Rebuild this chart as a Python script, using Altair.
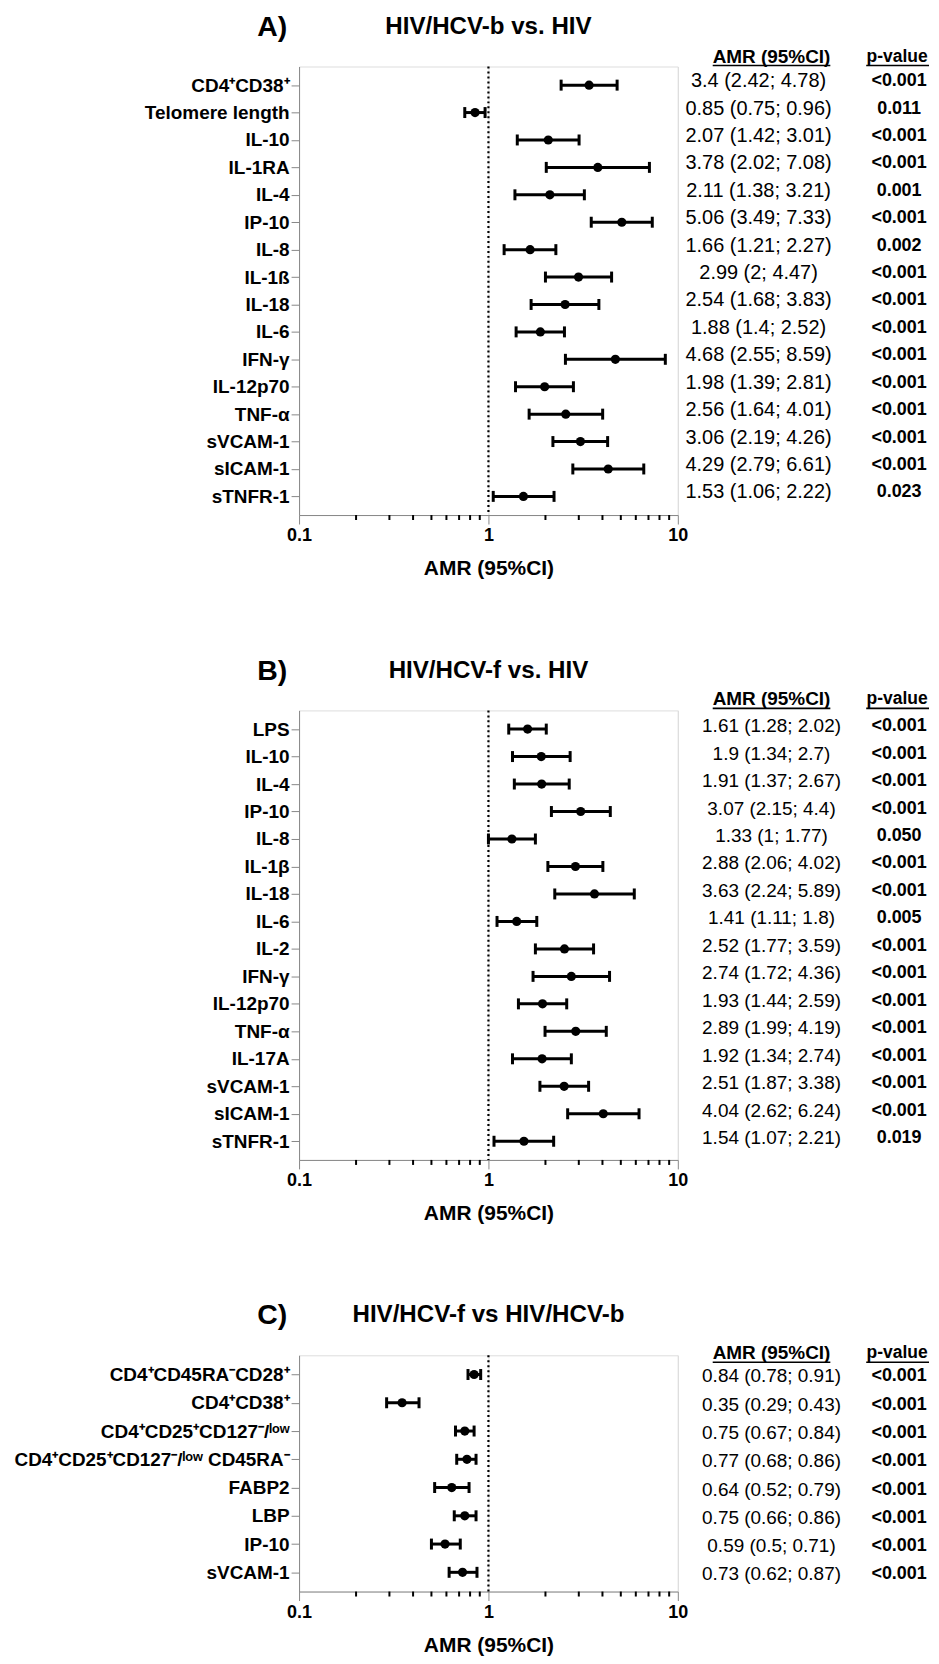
import altair as alt
import pandas as pd

FONT = "Liberation Sans, Arial, DejaVu Sans, sans-serif"

# ---------- Panel A: HIV/HCV-b vs. HIV ----------
a_labels = ["CD4⁺CD38⁺", "Telomere length", "IL-10", "IL-1RA", "IL-4", "IP-10", "IL-8", "IL-1ß",
            "IL-18", "IL-6", "IFN-γ", "IL-12p70", "TNF-α", "sVCAM-1", "sICAM-1", "sTNFR-1"]
a_amr = [3.4, 0.85, 2.07, 3.78, 2.11, 5.06, 1.66, 2.99, 2.54, 1.88, 4.68, 1.98, 2.56, 3.06, 4.29, 1.53]
a_lo = [2.42, 0.75, 1.42, 2.02, 1.38, 3.49, 1.21, 2, 1.68, 1.4, 2.55, 1.39, 1.64, 2.19, 2.79, 1.06]
a_hi = [4.78, 0.96, 3.01, 7.08, 3.21, 7.33, 2.27, 4.47, 3.83, 2.52, 8.59, 2.81, 4.01, 4.26, 6.61, 2.22]
a_p = ["<0.001", "0.011", "<0.001", "<0.001", "0.001", "<0.001", "0.002", "<0.001",
       "<0.001", "<0.001", "<0.001", "<0.001", "<0.001", "<0.001", "<0.001", "0.023"]

# ---------- Panel B: HIV/HCV-f vs. HIV ----------
b_labels = ["LPS", "IL-10", "IL-4", "IP-10", "IL-8", "IL-1β", "IL-18", "IL-6", "IL-2", "IFN-γ",
            "IL-12p70", "TNF-α", "IL-17A", "sVCAM-1", "sICAM-1", "sTNFR-1"]
b_amr = [1.61, 1.9, 1.91, 3.07, 1.33, 2.88, 3.63, 1.41, 2.52, 2.74, 1.93, 2.89, 1.92, 2.51, 4.04, 1.54]
b_lo = [1.28, 1.34, 1.37, 2.15, 1, 2.06, 2.24, 1.11, 1.77, 1.72, 1.44, 1.99, 1.34, 1.87, 2.62, 1.07]
b_hi = [2.02, 2.7, 2.67, 4.4, 1.77, 4.02, 5.89, 1.8, 3.59, 4.36, 2.59, 4.19, 2.74, 3.38, 6.24, 2.21]
b_p = ["<0.001", "<0.001", "<0.001", "<0.001", "0.050", "<0.001", "<0.001", "0.005",
       "<0.001", "<0.001", "<0.001", "<0.001", "<0.001", "<0.001", "<0.001", "0.019"]

# ---------- Panel C: HIV/HCV-f vs HIV/HCV-b ----------
c_labels = ["CD4⁺CD45RA⁻CD28⁺", "CD4⁺CD38⁺", "CD4⁺CD25⁺CD127⁻/ˡᵒʷ", "CD4⁺CD25⁺CD127⁻/ˡᵒʷ CD45RA⁻",
            "FABP2", "LBP", "IP-10", "sVCAM-1"]
c_amr = [0.84, 0.35, 0.75, 0.77, 0.64, 0.75, 0.59, 0.73]
c_lo = [0.78, 0.29, 0.67, 0.68, 0.52, 0.66, 0.5, 0.62]
c_hi = [0.91, 0.43, 0.84, 0.86, 0.79, 0.86, 0.71, 0.87]
c_p = ["<0.001"] * 8

major_ticks = [0.1, 1, 10]
minor_ticks = [0.2, 0.3, 0.4, 0.5, 0.6, 0.7, 0.8, 0.9, 2, 3, 4, 5, 6, 7, 8, 9]
ref_line = [1]

W = 380


def fmt(v):
    return f"{v:g}"


def panel(letter, title, labels, amr, lo, hi, pvals, height, amr_x, amr_size, text_dy, header_y):
    df = pd.DataFrame({"label": labels, "amr": amr, "lo": lo, "hi": hi, "p": pvals})
    df["ci"] = [f"{fmt(a)} ({fmt(l)}; {fmt(h)})" for a, l, h in zip(amr, lo, hi)]

    xscale = alt.Scale(type="log", domain=[0.1, 10])
    xaxis = alt.Axis(values=major_ticks, format="~g", title="AMR (95%CI)",
                     tickSize=9, labelPadding=3, labelFontSize=18, labelFontWeight="bold",
                     titleFontSize=21, titleFontWeight="bold", titlePadding=13, labelFlush=False)
    yscale = alt.Scale(type="point", padding=0.68)
    yaxis = alt.Axis(title=None, tickSize=8, labelPadding=2, labelFontWeight="bold",
                     labelFontSize={"condition": {"test": "length(datum.label) > 22", "value": 18.95},
                                    "value": 19},
                     labelLimit=400)
    Y = alt.Y("label:N", sort=labels, scale=yscale, axis=yaxis)

    def X(field):
        return alt.X(field, scale=xscale, axis=xaxis)

    base = alt.Chart(df)
    bars = base.mark_rule(strokeWidth=3, color="black").encode(x=X("lo:Q"), x2="hi:Q", y=Y)
    cap_lo = base.mark_tick(thickness=3, size=11, color="black", opacity=1).encode(x=X("lo:Q"), y=Y)
    cap_hi = base.mark_tick(thickness=3, size=11, color="black", opacity=1).encode(x=X("hi:Q"), y=Y)
    pts = base.mark_point(filled=True, size=85, color="black", opacity=1).encode(x=X("amr:Q"), y=Y)

    dotted = alt.Chart(pd.DataFrame({"v": ref_line})).mark_rule(
        strokeDash=[2, 3], strokeWidth=2.2, color="black").encode(x=X("v:Q"))
    minor = alt.Chart(pd.DataFrame({"v": minor_ticks})).mark_rule(
        strokeWidth=2, color="black").encode(x=X("v:Q"), y=alt.value(height), y2=alt.value(height + 5))

    ci_text = base.mark_text(font=FONT, fontSize=amr_size, color="black", align="center",
                             baseline="middle", dy=text_dy).encode(
        x=alt.value(amr_x), y=Y, text="ci:N")
    p_text = base.mark_text(font=FONT, fontSize=18, fontWeight="bold", color="black",
                            align="center", baseline="middle", dy=text_dy).encode(
        x=alt.value(602), y=Y, text="p:N")

    def label(txt, x, y, size, align="center"):
        return alt.Chart(pd.DataFrame({"t": [txt]})).mark_text(
            font=FONT, fontSize=size, fontWeight="bold", color="black", align=align,
            baseline="middle").encode(x=alt.value(x), y=alt.value(y), text="t:N")

    def uline(x1, x2, y):
        return alt.Chart(pd.DataFrame({"t": [0]})).mark_rule(strokeWidth=1.6, color="black").encode(
            x=alt.value(x1), x2=alt.value(x2), y=alt.value(y))

    t_letter = label(letter, -27, -40, 28.5)
    t_title = label(title, W / 2, -40, 24.2)
    h_amr = label("AMR (95%CI)", 474, header_y, 19)
    h_p = label("p-value", 600, header_y, 17.5)
    u_amr = uline(415, 533, header_y + 9)
    u_p = uline(569, 632, header_y + 9)

    return alt.layer(dotted, minor, bars, cap_lo, cap_hi, pts, ci_text, p_text,
                     t_letter, t_title, h_amr, h_p, u_amr, u_p).properties(width=W, height=height)


pA = panel("A)", "HIV/HCV-b vs. HIV", a_labels, a_amr, a_lo, a_hi, a_p, 450, 461, 20, -4, -10)
pB = panel("B)", "HIV/HCV-f vs. HIV", b_labels, b_amr, b_lo, b_hi, b_p, 451, 474, 19, -3, -11)
pC = panel("C)", "HIV/HCV-f vs HIV/HCV-b", c_labels, c_amr, c_lo, c_hi, c_p, 237, 474, 19, 2, -2)

chart = alt.vconcat(pA, pB, pC, spacing=76).properties(
    padding={"left": 5, "top": 1, "right": 0, "bottom": 0}
).configure_view(stroke=None).configure_axis(
    domainColor="black", domainWidth=2.5, tickColor="black", tickWidth=2.5,
    labelColor="black", titleColor="black", labelFont=FONT, titleFont=FONT,
    grid=False
).configure(background="white")

chart.save("out.html", embed_options={"renderer": "svg", "actions": False})
